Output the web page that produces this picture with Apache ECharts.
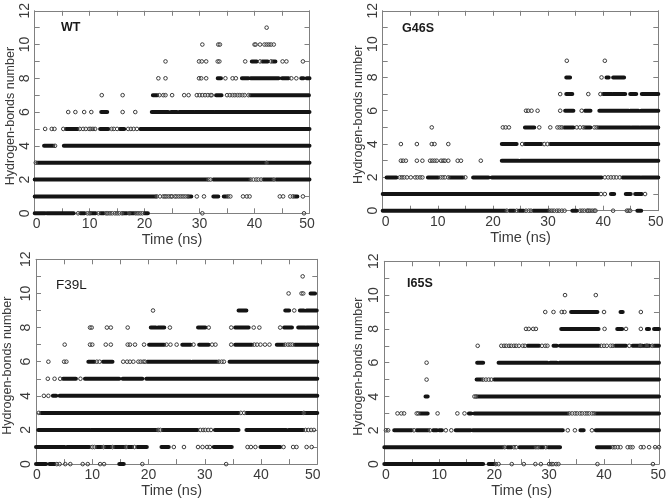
<!DOCTYPE html>
<html>
<head>
<meta charset="utf-8">
<style>
    html, body { margin: 0; padding: 0; background: #fff; }
    #chart { width: 669px; height: 499px; }
</style>
<script src="https://cdn.jsdelivr.net/npm/echarts@6/dist/echarts.min.js"></script>
</head>
<body>
<div id="chart"></div>
<script>
// Each *Runs row: [hbond count, from ns, to ns], a stretch so dense the circles merge into a bar.
// Each *Open row: [hbond count, [times in ns]], circles that can still be told apart.
const wtRuns = [
    [9, 39.5, 40.4], [9, 41.4, 42.4], [9, 43.3, 43.8],
    [8, 33.3, 33.9], [8, 37.7, 38.9], [8, 39.3, 44.4], [8, 45, 46.2], [8, 48.5, 48.9], [8, 49.5, 50],
    [7, 21.5, 22.3], [7, 33, 34], [7, 39.2, 49.9],
    [6, 12.1, 13.2], [6, 21.3, 24.3], [6, 24.8, 25.9], [6, 26.3, 28.9], [6, 29.2, 32.5], [6, 32.8, 50],
    [5, 5.7, 7.8], [5, 11.9, 13.4], [5, 15.5, 16.3], [5, 19.2, 50],
    [4, 1.7, 3.4], [4, 5.3, 50],
    [3, 0.5, 41.9], [3, 42.5, 50],
    [2, 0, 31.3], [2, 32.5, 39], [2, 41.6, 43.2], [2, 43.9, 50],
    [1, 0, 22],
    [1, 28, 28.5], [1, 32.5, 33.4], [1, 34.4, 34.9], [1, 47.3, 47.8],
    [0, 0, 1.9], [0, 2.2, 7.1], [0, 8.3, 9.1], [0, 10.2, 11.1], [0, 12, 12.6], [0, 16.1, 16.8], [0, 17.4, 18.1], [0, 20, 20.6]
]
const wtOpen = [
    [11, [42.2]],
    [10, [30.5, 33.4, 33.7, 40, 40.2, 41, 41.8, 42.2, 42.6, 43, 43.5]],
    [9, [23.8, 29.9, 30.4, 31.2, 33.3, 33.6, 38.3, 41, 43, 45.1, 45.8, 48.8]],
    [8, [22.5, 23.8, 29.9, 30.3, 31.2, 34.7, 36, 36.6, 46.7, 47.6]],
    [7, [12.2, 16, 22.7, 23.4, 23.8, 25, 27.2, 28, 29.5, 30, 30.5, 31, 31.5, 32, 32.2, 35, 35.5, 36, 36.4, 36.9, 37.3, 37.8, 38.2, 38.9]],
    [6, [6.1, 7.4, 9, 10.3, 16, 18.3]],
    [5, [1.9, 3.1, 3.6, 5.2, 8.2, 8.8, 9.3, 9.9, 10.2, 10.6, 11, 14, 14.4, 15, 17, 17.5, 18, 18.6]],
    [4, [3.7]],
    [3, [0.2, 42.2]],
    [2, [31.6, 32, 39.3, 39.8, 40.3, 40.7, 41.2, 43.5]],
    [1, [22.2, 22.8, 23.4, 23.7, 24, 24.4, 24.8, 25, 25.5, 25.8, 26.2, 26.6, 27, 27.4, 27.8, 29.5, 30.8, 35.2, 35.6, 37.9, 38.6, 39.1, 44.6, 45.2, 46.5, 47, 48.8]],
    [0, [7.9, 9.6, 10, 11.6, 13, 13.3, 13.7, 14.1, 14.6, 15, 15.4, 15.9, 17.2, 18.4, 18.8, 19.2, 19.6, 30.5, 49]]
]
const g46sRuns = [
    [8, 33.3, 34], [8, 40.6, 41], [8, 41.8, 43.8],
    [7, 33.3, 34.4], [7, 40, 41.5], [7, 41.8, 44], [7, 44.9, 46], [7, 47, 50],
    [6, 33.1, 34.6], [6, 36.7, 37.7], [6, 39.3, 44.6], [6, 44.9, 46.4], [6, 46.9, 50],
    [5, 25.8, 27.5], [5, 32.9, 34.6], [5, 36.7, 37.7], [5, 39.1, 44.9], [5, 45.2, 46.5], [5, 46.8, 50],
    [4, 21.6, 24.3], [4, 25.8, 28.8], [4, 30.4, 50],
    [3, 21.6, 24.6], [3, 25, 50],
    [2, 0.7, 2.5], [2, 8.2, 10.1], [2, 12.2, 14.6], [2, 16.4, 19.2], [2, 19.8, 39.7], [2, 43.5, 46.7], [2, 47, 50],
    [1, 0, 39.1], [1, 41.4, 42], [1, 44.1, 45], [1, 45.8, 47],
    [0, 0, 22.2], [0, 23, 23.9], [0, 24.7, 25.6], [0, 27.3, 30], [0, 34.4, 35.2], [0, 46.2, 46.9]
]
const g46sOpen = [
    [9, [33.4, 40.3]],
    [8, [39.7]],
    [7, [32.2, 37.3, 39.5]],
    [6, [26, 26.4, 27, 28.1, 32.2, 36.1]],
    [5, [8.9, 21.8, 22.3, 22.9, 28.4, 30.4, 31.7, 32.1, 32.5, 35.2, 35.8, 36.4, 38.4, 38.8]],
    [4, [3.3, 6.2, 8.9, 9.4, 11.9, 25.3, 29.3, 29.9]],
    [3, [3.3, 3.7, 4.2, 6.2, 7.2, 8.6, 9, 9.4, 9.8, 10.6, 11, 11.3, 11.9, 13.6, 14.2, 17.8]],
    [2, [3.1, 3.5, 3.9, 4.4, 5.1, 5.9, 6.3, 6.8, 7.2, 10.5, 10.9, 11.3, 11.9, 15, 40.3, 40.9, 41.4, 41.9, 42.4, 43]],
    [1, [39.6, 40.3, 47.6]],
    [0, [22.5, 24.3, 26, 26.5, 26.9, 30.3, 30.7, 31.1, 31.6, 32, 32.5, 33, 35.8, 36.2, 36.6, 37.1, 37.3, 37.6, 38, 38.4, 38.6, 41.8, 44.3, 44.6, 44.9]]
]
const f39lRuns = [
    [10, 48.8, 49.6],
    [9, 36, 37.4], [9, 44.3, 45], [9, 46.9, 47.6], [9, 48.1, 49.9],
    [8, 20.4, 21.3], [8, 21.7, 22.8], [8, 28.8, 30.1], [8, 35.4, 37.8], [8, 44.1, 45.5], [8, 46.6, 47.8], [8, 48.1, 50],
    [7, 20.1, 22.8], [7, 26, 27.5], [7, 29, 30.7], [7, 35.4, 38.4], [7, 42.8, 44], [7, 46, 50],
    [6, 9.3, 10.4], [6, 11.9, 13.6], [6, 19.8, 27.5], [6, 27.8, 32.2], [6, 34.4, 50],
    [5, 4.8, 7.1], [5, 8.7, 14.8], [5, 15.4, 18.9], [5, 19.6, 50],
    [4, 3, 3.6], [4, 4.2, 50],
    [3, 0.9, 36], [3, 37.4, 47.3], [3, 47.9, 50],
    [2, 0.4, 9.5], [2, 9.8, 21.4], [2, 22.5, 28.7], [2, 31.8, 36], [2, 37.4, 44.5], [2, 44.9, 47.5],
    [1, 0, 5.1], [1, 5.5, 9.5], [1, 10.8, 11.6], [1, 12.3, 13.3], [1, 14, 15.7], [1, 16.4, 17.1], [1, 18, 19.7], [1, 22.3, 23.6], [1, 31.6, 34.8], [1, 39.9, 43.4],
    [0, 0, 1.8], [0, 2.4, 3.3], [0, 14.8, 15.6]
]
const f39lOpen = [
    [11, [47.4]],
    [10, [44.9, 47.2, 47.5]],
    [9, [20.8, 45.9]],
    [8, [9.6, 9.9, 12.6, 13.3, 16.3, 23.8, 30.7, 34.7, 38.7, 39.7, 43.4]],
    [7, [5.1, 9.6, 10, 12.4, 13.3, 16.3, 16.7, 17.6, 19.2, 23.2, 23.9, 25, 28, 31.3, 31.9, 34.7, 38.8, 39.3, 39.9, 40.7, 41.5, 44.3, 44.8, 45.2, 45.6]],
    [6, [2.2, 5, 5.4, 10.8, 11.3, 15.5, 16.2, 16.7, 17.3, 18.2, 18.6, 19.1, 19.4, 32.5, 33, 33.4]],
    [5, [2.1, 3.3, 4.3, 7.9]],
    [4, [1.4, 2.2]],
    [3, [0.5, 36.4, 37, 47.6]],
    [2, [21.7, 22.1, 29.2, 29.7, 30.1, 30.6, 31.1, 47.9, 48.4, 48.9, 49.4]],
    [1, [10, 10.4, 12, 13.6, 16, 17.5, 24.5, 26.3, 28.8, 29.6, 30.4, 30.9, 37.6, 38.2, 39, 44, 45.7, 46.3, 48.1, 49]],
    [0, [3.7, 4.2, 5.2, 6.1, 8.3, 9.2, 11.4, 12.1, 18.9, 33.8]]
]
const i65sRuns = [
    [9, 34, 38.8], [9, 43, 43.4],
    [8, 32.2, 39], [8, 42.4, 43.3], [8, 47.8, 48.2], [8, 49.1, 50],
    [7, 26.1, 28.2], [7, 30.8, 31.4], [7, 32, 39.1], [7, 42, 44], [7, 45.2, 47], [7, 47.4, 48.3], [7, 49.1, 50],
    [6, 16.9, 18], [6, 20.8, 29.7], [6, 30.2, 31.4], [6, 31.9, 50],
    [5, 16.8, 17.7], [5, 20, 50],
    [4, 7.5, 7.9], [4, 16.9, 50],
    [3, 6.5, 7.9], [3, 15.4, 15.8], [3, 16.4, 33.4], [3, 38.5, 50],
    [2, 1.8, 5], [2, 5.9, 8], [2, 8.9, 9.6], [2, 10, 10.5], [2, 13, 15.7], [2, 16.1, 32.5], [2, 35.7, 36.3], [2, 38.5, 50],
    [1, 0, 21.6], [1, 22.4, 23.2], [1, 24.6, 27.3], [1, 28.3, 29], [1, 29.8, 32], [1, 38.7, 41.2],
    [0, 0, 18], [0, 19, 20]
]
const i65sOpen = [
    [10, [32.9, 38.5]],
    [9, [29.3, 30.8, 32.3, 32.8, 40, 46.7]],
    [8, [25.8, 26.3, 27.1, 27.6, 40.1, 44, 46.7]],
    [7, [17, 21.3, 21.8, 22.2, 22.7, 23.1, 23.6, 24, 24.5, 25.2, 25.6, 28.7, 29.3, 29.7, 39.5, 40, 40.5, 41.2, 41.6, 44.6, 46.6, 47.8, 48.8]],
    [6, [7.7]],
    [5, [7.7, 18, 18.5, 19, 19.5]],
    [4, [16.4, 16.7]],
    [3, [2.4, 3.1, 3.6, 5.9, 6.2, 9.7, 13.3, 14.6, 33.7, 34.2, 34.7, 35.1, 35.6, 36, 36.5, 36.9, 37.3, 37.8, 38.2]],
    [2, [0.3, 0.7, 5.4, 8.3, 11.2, 12.2, 33.4, 34.7, 37.8]],
    [1, [21.9, 23.6, 24, 27.6, 28, 29.4, 41.6, 42, 42.5, 43, 44.3, 44.8, 45.2, 46.7, 47.2, 48.2, 49.3, 50]],
    [0, [20.3, 20.8, 23.2, 25.4, 27.5, 28.5, 30, 30.4, 30.7, 31.3, 31.7, 38.8, 48.9]]
]

const xTicks = { min: 0, max: 50, interval: 5 }
const yTicks = { min: 0, max: 12, interval: 2 }

const panels = [
    { label: 'WT', weight: 'bold', runs: wtRuns, open: wtOpen, left: 34.7, right: 309.5, top: 4.7, bottom: 213.3, labelX: 61, labelY: 21, yGap: 18, xGap: 18, xShift: 0, minPad: 4, maxPad: 5 },
    { label: 'G46S', weight: 'bold', runs: g46sRuns, open: g46sOpen, left: 382.7, right: 658.3, top: 4, bottom: 210.7, labelX: 402, labelY: 22, yGap: 18, xGap: 20, xShift: 0, minPad: 6, maxPad: 5 },
    { label: 'F39L', weight: 'normal', runs: f39lRuns, open: f39lOpen, left: 34.7, right: 317.3, top: 259.3, bottom: 466.7, labelX: 56, labelY: 278, yGap: 22, xGap: 17, xShift: 10, minPad: 2, maxPad: 9 },
    { label: 'I65S', weight: 'bold', runs: i65sRuns, open: i65sOpen, left: 384.3, right: 660, top: 261.3, bottom: 466, labelX: 407, labelY: 277, yGap: 19, xGap: 18, xShift: 0, minPad: 3, maxPad: 1.5 }
]

const frameColor = '#808080'
const textColor = '#3a3a3a'

function runsToLine(runs) {
    let out = []
    runs.forEach((r) => {
        out.push([r[1], r[0]], [r[2], r[0]], null)
    })
    return out
}

function openToPoints(open) {
    let out = []
    open.forEach((row) => {
        row[1].forEach((t) => out.push([t, row[0]]))
    })
    return out
}

const tickStyle = { show: true, inside: true, length: 5, lineStyle: { color: frameColor, width: 1 } }
const lineStyle = { show: true, onZero: false, lineStyle: { color: frameColor, width: 1 } }

let grids = [], xAxes = [], yAxes = [], series = [], titles = []
panels.forEach((p, i) => {
    grids.push({ left: p.left, top: p.top, width: p.right - p.left, height: p.bottom - p.top })
    titles.push({
        text: p.label, left: p.labelX, top: p.labelY, padding: 0,
        textStyle: { fontFamily: 'Liberation Sans', fontSize: p.weight == 'bold' ? 12.5 : 13.5, fontWeight: p.weight, color: '#1a1a1a' }
    })
    xAxes.push({
        type: 'value', gridIndex: i, position: 'bottom', ...xTicks,
        name: 'Time (ns)', nameLocation: 'middle', nameGap: p.xGap,
        nameTextStyle: { fontFamily: 'Liberation Sans', fontSize: 14.5, color: textColor, padding: [0, p.xShift, 0, 0] },
        axisLine: lineStyle, axisTick: tickStyle, splitLine: { show: false },
        axisLabel: {
            margin: 4, fontFamily: 'Liberation Sans', fontSize: 14, color: textColor, hideOverlap: false,
            showMinLabel: true, showMaxLabel: true,
            formatter: (v) => {
                if (v % 10 != 0) return ''
                if (v == 0) return '{lo|0}'
                if (v == 50) return '{hi|50}'
                return String(v)
            },
            rich: {
                lo: { fontFamily: 'Liberation Sans', fontSize: 14, color: textColor, padding: [0, 0, 0, p.minPad] },
                hi: { fontFamily: 'Liberation Sans', fontSize: 14, color: textColor, padding: [0, p.maxPad, 0, 0] }
            }
        }
    })
    xAxes.push({
        type: 'value', gridIndex: i, position: 'top', ...xTicks,
        axisLine: lineStyle, axisTick: tickStyle, axisLabel: { show: false }, splitLine: { show: false }
    })
    yAxes.push({
        type: 'value', gridIndex: i, position: 'left', ...yTicks,
        name: 'Hydrogen-bonds number', nameLocation: 'middle', nameRotate: 90, nameGap: p.yGap,
        nameTextStyle: { fontFamily: 'Liberation Sans', fontSize: 12.5, color: textColor, padding: [0, 8, 0, 0] },
        axisLine: lineStyle, axisTick: tickStyle, splitLine: { show: false },
        minorTick: { show: true, splitNumber: 2, length: 5, lineStyle: { color: frameColor, width: 1 } },
        axisLabel: { rotate: 90, margin: 3, fontFamily: 'Liberation Sans', fontSize: 14, color: textColor, showMinLabel: true, showMaxLabel: true }
    })
    yAxes.push({
        type: 'value', gridIndex: i, position: 'right', ...yTicks,
        axisLine: lineStyle, axisTick: tickStyle, axisLabel: { show: false }, splitLine: { show: false },
        minorTick: { show: true, splitNumber: 2, length: 5, lineStyle: { color: frameColor, width: 1 } }
    })
    series.push({
        type: 'line', xAxisIndex: i * 2, yAxisIndex: i * 2, data: runsToLine(p.runs),
        symbol: 'none', clip: false, connectNulls: false, animation: false, z: 3,
        lineStyle: { color: '#141414', width: 4, cap: 'round' }
    })
    series.push({
        type: 'scatter', xAxisIndex: i * 2, yAxisIndex: i * 2, data: openToPoints(p.open),
        symbol: 'circle', symbolSize: 3.6, clip: false, animation: false, z: 4, silent: true,
        itemStyle: { color: 'rgba(255,255,255,0.2)', borderColor: '#3c3c3c', borderWidth: 1, opacity: 1 }
    })
})

const graph = echarts.init(document.getElementById('chart'), null, { renderer: 'canvas' })
graph.setOption({
    backgroundColor: '#fff',
    animation: false,
    title: titles,
    grid: grids,
    xAxis: xAxes,
    yAxis: yAxes,
    series: series
})
</script>
</body>
</html>
